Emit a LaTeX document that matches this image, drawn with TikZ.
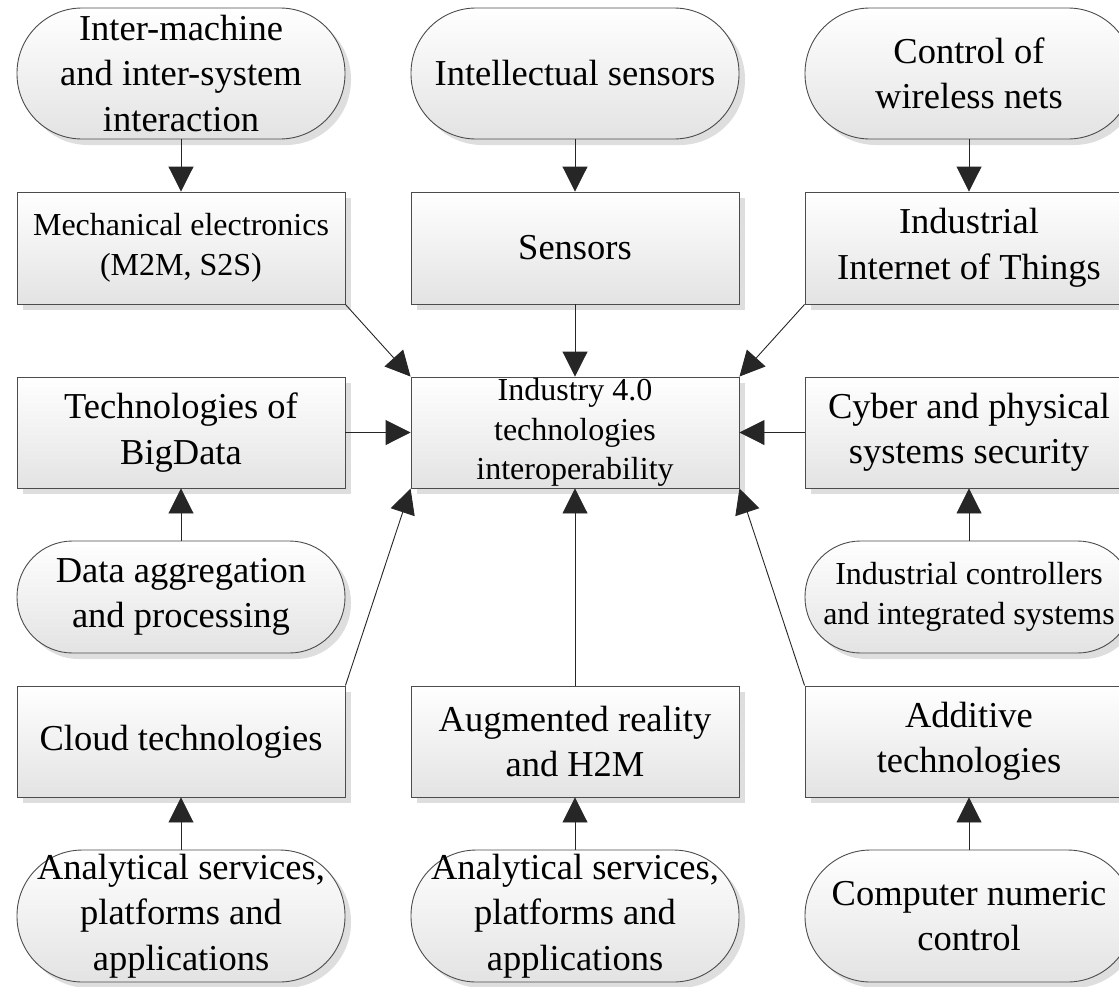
\documentclass[tikz,border=0pt]{standalone}
\usepackage{fontspec}
\setmainfont{Liberation Serif}
\usetikzlibrary{arrows.meta,shadows}
\newcommand\fbig{\fontsize{36.5}{45.5}\selectfont}
\newcommand\fsmall{\fontsize{32}{39.5}\selectfont}
\begin{document}
\begin{tikzpicture}[x=1pt,y=-1pt,
 base/.style={draw=black!70, line width=0.9pt, top color=white, bottom color=black!11,
   drop shadow={shadow xshift=6pt,shadow yshift=-6pt,fill=black!13,opacity=1},
   inner sep=0pt, align=center, minimum width=328pt, font=\fbig},
 boxn/.style={base, rectangle},
 ovaln/.style={base, rectangle, rounded corners=#1},
 conn/.style={draw=black!85, line width=0.9pt, -{Triangle[length=25pt,width=25pt]}}
]
\useasboundingbox (0,0) rectangle (1119,986);
\node[ovaln=65pt, minimum height=131pt] (o1) at (181,73.5) {Inter-machine\\and inter-system\\interaction};
\node[ovaln=65pt, minimum height=131pt] (o2) at (575,73.5) {Intellectual sensors};
\node[ovaln=65pt, minimum height=131pt] (o3) at (969,73.5) {Control of\\wireless nets};
\node[boxn, minimum height=112pt, font=\fsmall] (r1) at (181,248) {Mechanical electronics\\(M2M, S2S)};
\node[boxn, minimum height=112pt] (r2) at (575,248) {Sensors};
\node[boxn, minimum height=112pt] (r3) at (969,248) {Industrial\\Internet of Things};
\node[boxn, minimum height=111pt] (m1) at (181,432.5) {Technologies of\\BigData};
\node[boxn, minimum height=111pt, font=\fsmall] (c) at (575,432.5) {Industry 4.0\\technologies\\interoperability};
\node[boxn, minimum height=111pt] (m3) at (969,432.5) {Cyber and physical\\systems security};
\node[ovaln=55.5pt, minimum height=112pt] (p1) at (181,597) {Data aggregation\\and processing};
\node[ovaln=55.5pt, minimum height=112pt, font=\fsmall] (p3) at (969,597) {Industrial controllers\\and integrated systems};
\node[boxn, minimum height=111pt] (b1) at (181,741.5) {Cloud technologies};
\node[boxn, minimum height=111pt] (b2) at (575,741.5) {Augmented reality\\and H2M};
\node[boxn, minimum height=111pt] (b3) at (969,741.5) {Additive\\technologies};
\node[ovaln=65.5pt, minimum height=132pt] (q1) at (181,916) {Analytical services,\\platforms and\\applications};
\node[ovaln=65.5pt, minimum height=132pt] (q2) at (575,916) {Analytical services,\\platforms and\\applications};
\node[ovaln=65.5pt, minimum height=132pt] (q3) at (969,916) {Computer numeric\\control};

\draw[conn] (o1.south) -- (r1.north);
\draw[conn] (o2.south) -- (r2.north);
\draw[conn] (o3.south) -- (r3.north);
\draw[conn] (r1.south east) -- (c.north west);
\draw[conn] (r2.south) -- (c.north);
\draw[conn] (r3.south west) -- (c.north east);
\draw[conn] (m1.east) -- (c.west);
\draw[conn] (m3.west) -- (c.east);
\draw[conn] (p1.north) -- (m1.south);
\draw[conn] (p3.north) -- (m3.south);
\draw[conn] (b1.north east) -- (c.south west);
\draw[conn] (b2.north) -- (c.south);
\draw[conn] (b3.north west) -- (c.south east);
\draw[conn] (q1.north) -- (b1.south);
\draw[conn] (q2.north) -- (b2.south);
\draw[conn] (q3.north) -- (b3.south);
\end{tikzpicture}
\end{document}
